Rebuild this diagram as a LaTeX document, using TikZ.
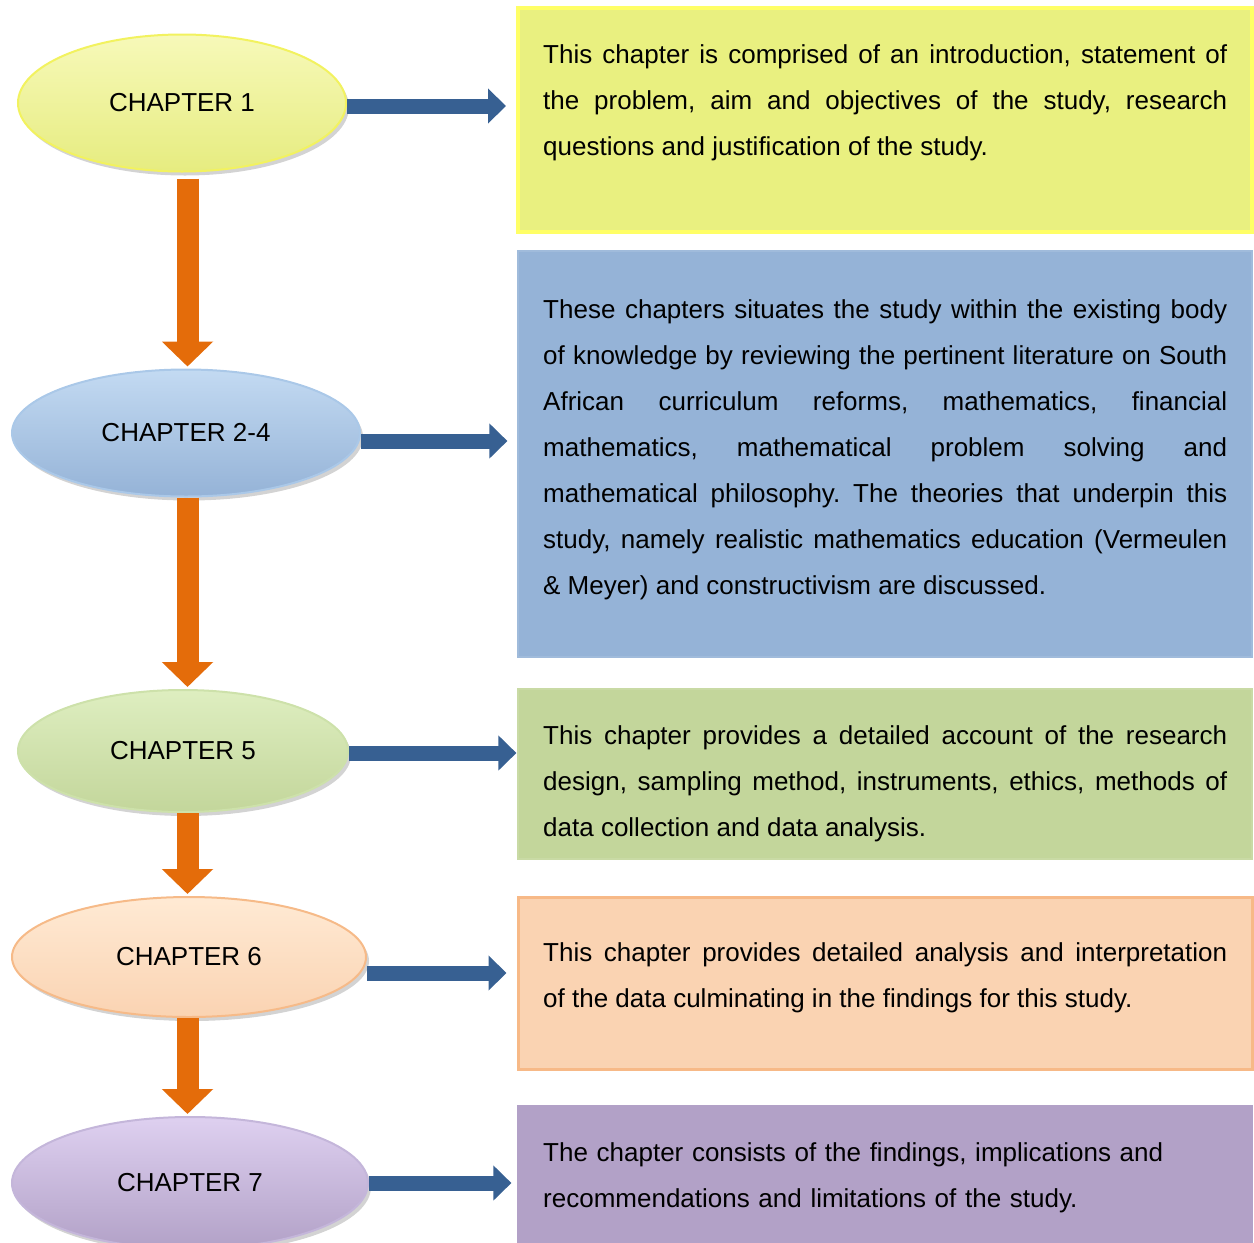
\documentclass[tikz,border=0pt]{standalone}
\usepackage{fontspec}
\setmainfont{Liberation Sans}
\usetikzlibrary{arrows.meta, shapes.geometric, shadows, calc}
\frenchspacing

\definecolor{oneFill}{RGB}{230,236,128}
\definecolor{oneTop}{RGB}{247,249,185}
\definecolor{oneRim}{RGB}{242,242,95}
\definecolor{twoFill}{RGB}{149,179,215}
\definecolor{twoTop}{RGB}{195,218,242}
\definecolor{twoRim}{RGB}{170,200,232}
\definecolor{fiveFill}{RGB}{195,214,155}
\definecolor{fiveTop}{RGB}{222,238,192}
\definecolor{fiveRim}{RGB}{205,225,170}
\definecolor{sixFill}{RGB}{250,211,178}
\definecolor{sixTop}{RGB}{255,234,212}
\definecolor{sixRim}{RGB}{246,186,136}
\definecolor{sevenFill}{RGB}{178,161,199}
\definecolor{sevenTop}{RGB}{222,208,240}
\definecolor{sevenRim}{RGB}{196,182,218}
\definecolor{boxYellow}{RGB}{233,240,128}
\definecolor{rimYellow}{RGB}{255,255,102}
\definecolor{rimOrange}{RGB}{247,185,135}
\definecolor{arrBlue}{RGB}{55,96,146}
\definecolor{arrOrange}{RGB}{228,108,10}

\begin{document}
\begin{tikzpicture}[x=1pt, y=-1pt,
    chap/.style={
        ellipse,
        line width=2pt,
        inner sep=0pt,
        font=\fontsize{26}{30}\selectfont,
        drop shadow={opacity=0.35, shadow xshift=3pt, shadow yshift=-4pt}
      },
    descbox/.style={
        rectangle,
        line width=1.2pt,
        minimum width=734pt,
        inner sep=0pt
      },
    desc/.style={
        text width=684pt,
        inner sep=0pt,
        align=justify,
        font=\fontsize{26}{46}\selectfont
      },
    bluearr/.style={-{Triangle[width=34pt, length=18pt]}, arrBlue, line width=15pt},
    orangearr/.style={-{Triangle[width=50pt, length=25pt]}, arrOrange, line width=22pt}
  ]
  \useasboundingbox (0,0) rectangle (1254,1243);

  % chapter ellipses
  \node[chap, draw=oneRim, top color=oneTop, bottom color=oneFill, minimum width=328pt, minimum height=137pt] (c1) at (182,103) {CHAPTER 1};
  \node[chap, draw=twoRim, top color=twoTop, bottom color=twoFill, minimum width=348pt, minimum height=127pt] (c24) at (186,433) {CHAPTER 2-4};
  \node[chap, draw=fiveRim, top color=fiveTop, bottom color=fiveFill, minimum width=330pt, minimum height=122pt] (c5) at (183,751) {CHAPTER 5};
  \node[chap, draw=sixRim, top color=sixTop, bottom color=sixFill, minimum width=354pt, minimum height=120pt] (c6) at (189,957) {CHAPTER 6};
  \node[chap, draw=sevenRim, top color=sevenTop, bottom color=sevenFill, minimum width=356pt, minimum height=132pt] (c7) at (190,1183) {CHAPTER 7};
  \coordinate (spine) at (187.5,0);

  % description boxes
  \node[descbox, fill=boxYellow, draw=rimYellow, line width=4pt, minimum height=224pt] (d1) at (885,120) {};
  \node[descbox, fill=twoFill, draw=twoFill!90!white, minimum height=406pt] (d24) at (885,454) {};
  \node[descbox, fill=fiveFill, draw=fiveFill!90!white, minimum height=170pt] (d5) at (885,774) {};
  \node[descbox, fill=sixFill, draw=rimOrange, line width=3pt, minimum height=172pt] (d6) at (885,983) {};
  \node[descbox, fill=sevenFill, draw=sevenFill, minimum height=160pt] (d7) at (885,1186) {};

  \node[desc, anchor=base west] (t1) at (543,63) {This chapter is comprised of an introduction, statement of\linebreak
    the problem, aim and objectives of the study, research\linebreak
    questions and justification of the study.};
  \node[desc, anchor=base west] (t24) at (543,318) {These chapters situates the study within the existing body\linebreak
    of knowledge by reviewing the pertinent literature on South\linebreak
    African curriculum reforms, mathematics, financial\linebreak
    mathematics, mathematical problem solving and\linebreak
    mathematical philosophy. The theories that underpin this\linebreak
    study, namely realistic mathematics education (Vermeulen\linebreak
    \& Meyer) and constructivism are discussed.};
  \node[desc, anchor=base west] (t5) at (543,744) {This chapter provides a detailed account of the research\linebreak
    design, sampling method, instruments, ethics, methods of\linebreak
    data collection and data analysis.};
  \node[desc, anchor=base west] (t6) at (543,961) {This chapter provides detailed analysis and interpretation\linebreak
    of the data culminating in the findings for this study.};
  \node[desc, align=left, anchor=base west] (t7) at (543,1161) {The chapter consists of the findings, implications and\\
    recommendations and limitations of the study.};

  % arrows to the boxes
  \draw[bluearr, shorten >=10pt] ([yshift=-3pt]c1.east) -- ([yshift=-3pt]c1.east -| d1.west);
  \draw[bluearr, shorten >=10pt] ([yshift=-8pt]c24.east) -- ([yshift=-8pt]c24.east -| d24.west);
  \draw[bluearr, shorten >=1pt] ([yshift=-2pt]c5.east) -- ([yshift=-2pt]c5.east -| d5.west);
  \draw[bluearr, shorten >=10pt] ([yshift=-16pt]c6.east) -- ([yshift=-16pt]c6.east -| d6.west);
  \draw[bluearr, shorten >=6pt] (c7.east) -- (c7.east -| d7.west);

  % arrows down the chapters
  \draw[orangearr, shorten <=6pt, shorten >=2pt] (c1.south -| spine) -- (c24.north -| spine);
  \draw[orangearr, shorten >=2pt] (c24.south -| spine) -- (c5.north -| spine);
  \draw[orangearr, shorten >=2pt] (c5.south -| spine) -- (c6.north -| spine);
  \draw[orangearr, shorten >=2pt] (c6.south -| spine) -- (c7.north -| spine);
\end{tikzpicture}
\end{document}
